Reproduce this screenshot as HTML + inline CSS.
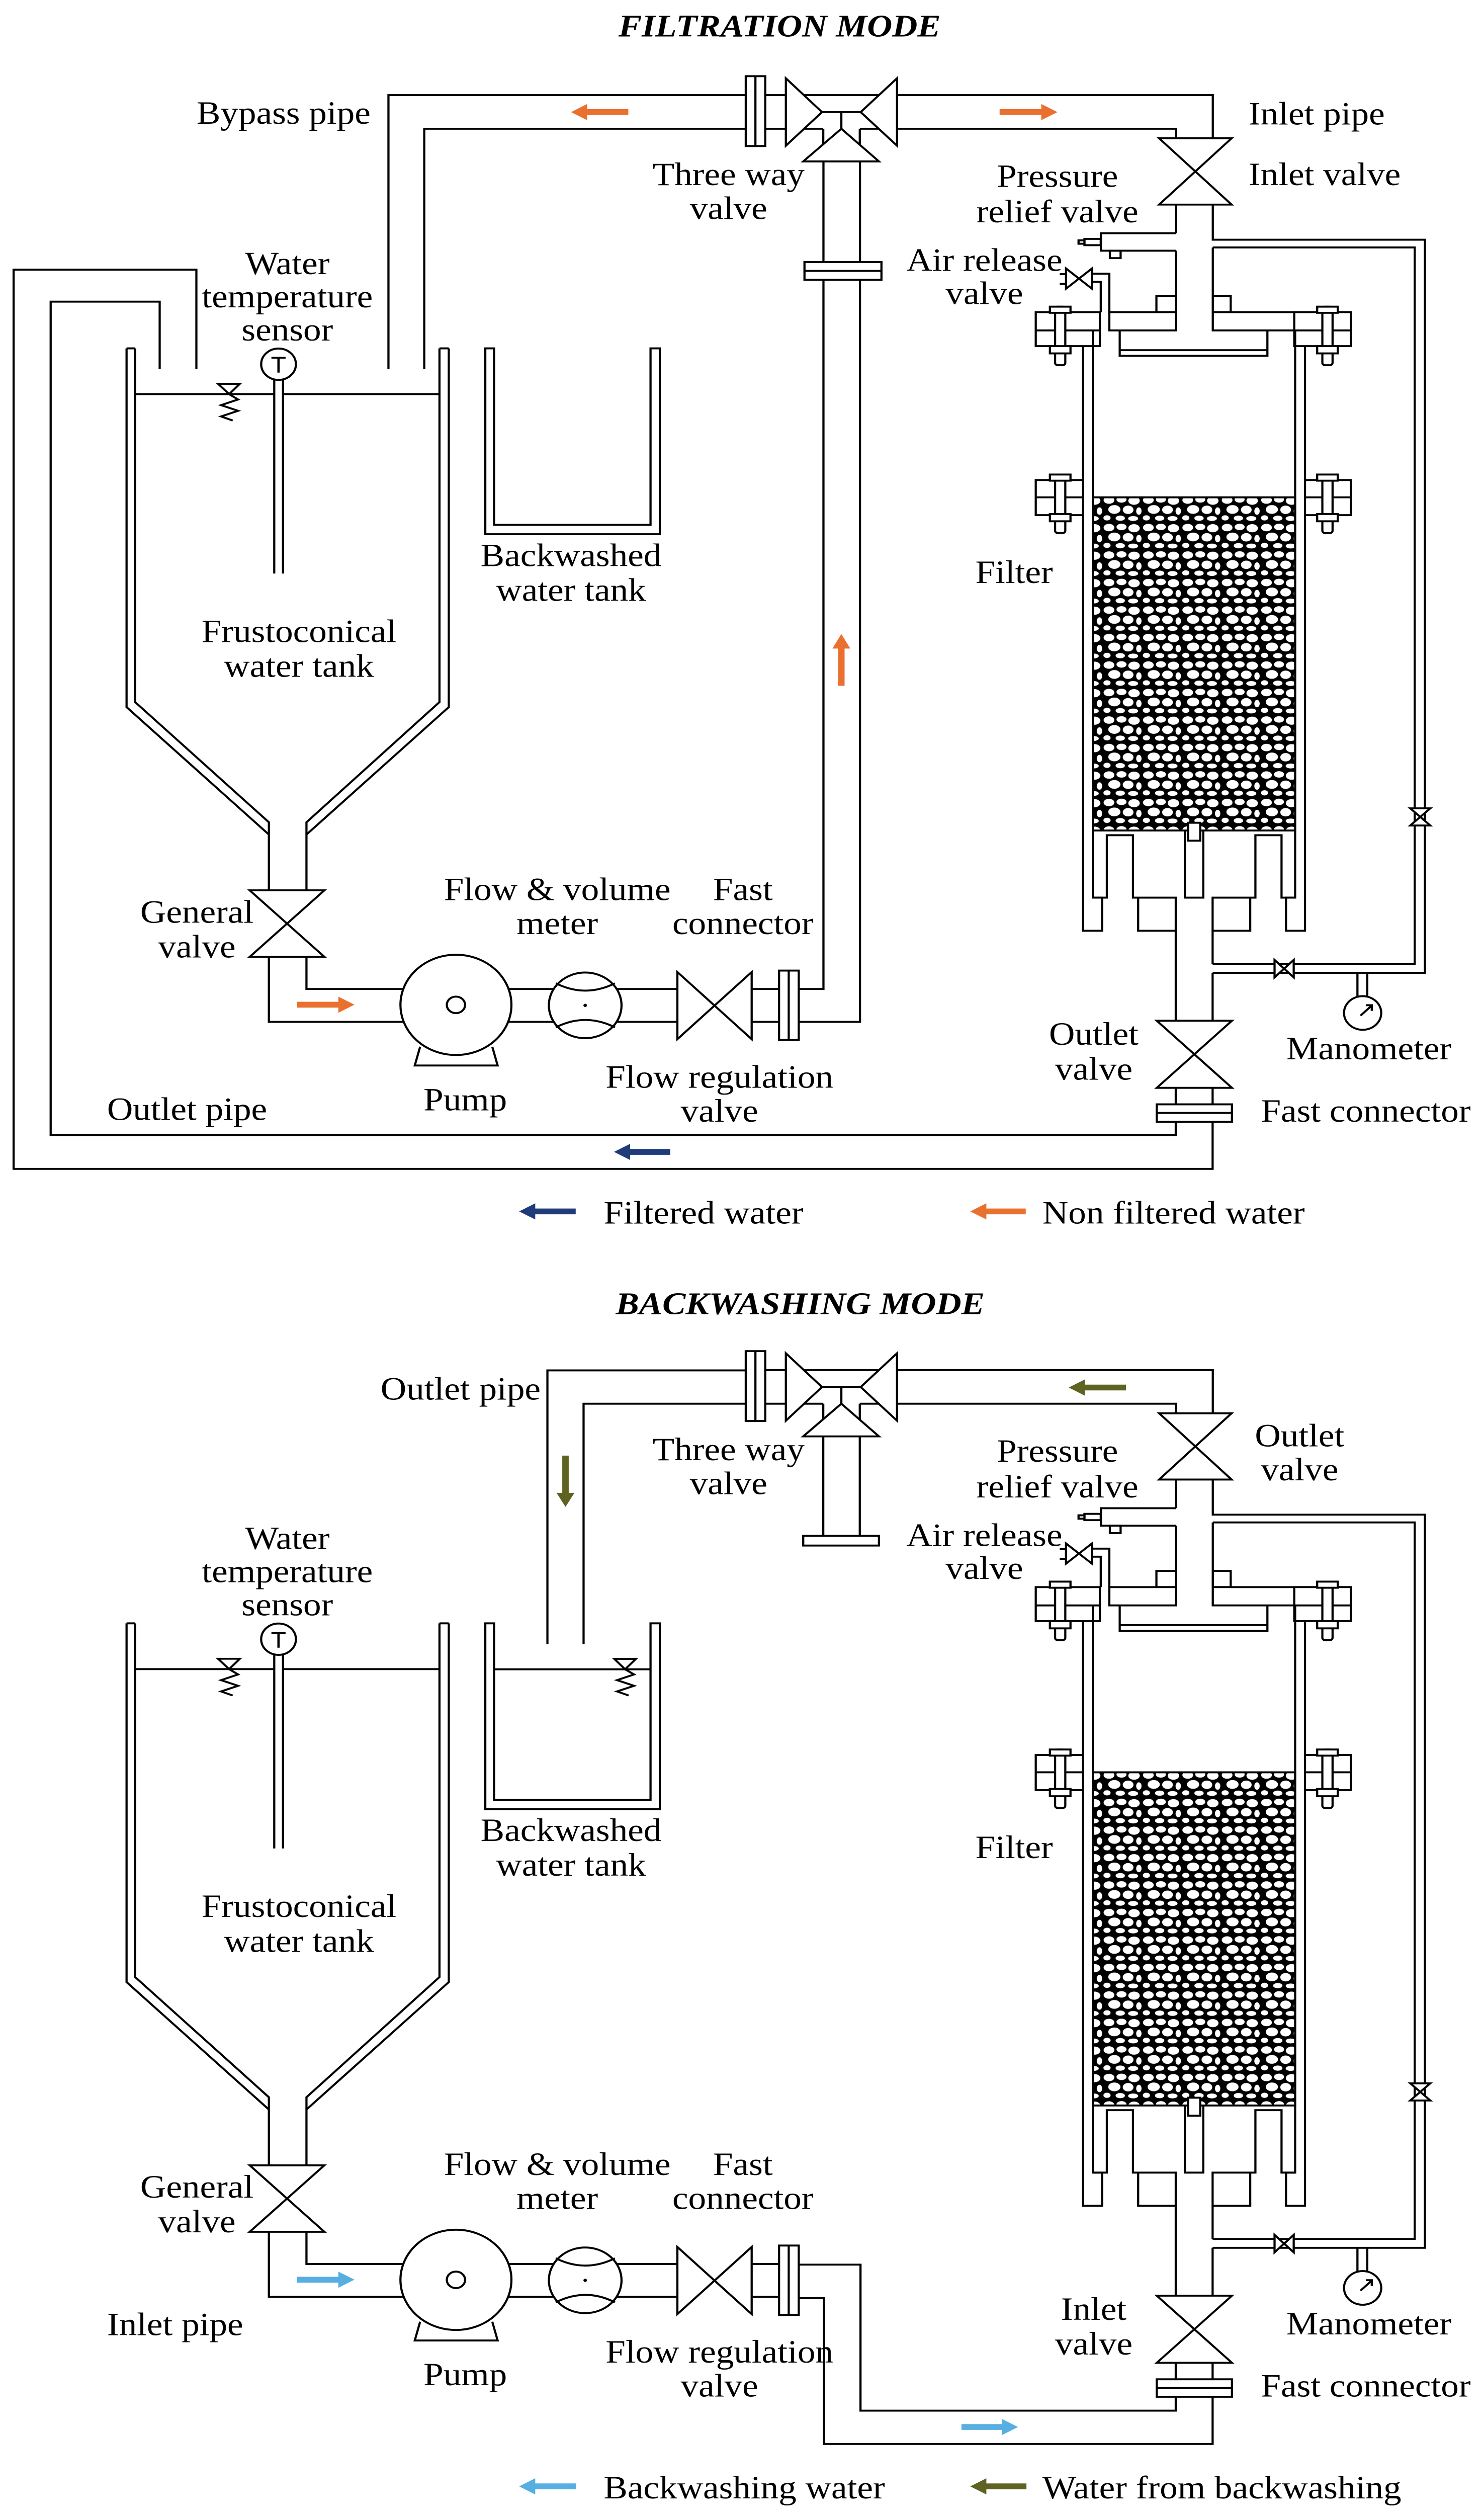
<!DOCTYPE html>
<html><head><meta charset="utf-8">
<style>
html,body{margin:0;padding:0;background:#fff;width:100%;height:100%;overflow:hidden;}
svg{display:block;position:absolute;left:0;top:0;width:100vw;height:100vh;}
text{font-family:"Liberation Serif",serif;font-size:20px;fill:#000;}
.c{text-anchor:middle;}
.e{text-anchor:end;}
.t{font-style:italic;font-weight:bold;font-size:19.5px;text-anchor:middle;}
</style></head><body>
<svg width="2951" height="5535" viewBox="0 0 829 1555" preserveAspectRatio="none" xmlns="http://www.w3.org/2000/svg">
<defs>
<pattern id="peb" width="22" height="17" patternUnits="userSpaceOnUse">
<rect width="22" height="17" fill="#000"/>
<g fill="#fff">
<ellipse cx="3.5" cy="3.2" rx="3" ry="2.3"/>
<ellipse cx="10.5" cy="2.8" rx="2.8" ry="2"/>
<ellipse cx="17.5" cy="3.6" rx="3.2" ry="2.5"/>
<ellipse cx="6.5" cy="9" rx="3.4" ry="2.7"/>
<ellipse cx="14.2" cy="9.2" rx="3" ry="2.6"/>
<ellipse cx="20.2" cy="10" rx="1.5" ry="2.3"/>
<ellipse cx="2.4" cy="14.2" rx="2" ry="1.6"/>
<ellipse cx="9.8" cy="14.4" rx="2.6" ry="1.6"/>
<ellipse cx="17" cy="14.6" rx="2.8" ry="1.5"/>
</g>
</pattern>
<g id="common" fill="none" stroke="#000" stroke-width="1.2">
<rect x="416.6" y="47.1" width="10.9" height="43.2" fill="#fff"/>
<line x1="422" y1="47.1" x2="422" y2="90.3"/>
<path d="M427.5,58.8 H439 M427.5,79.6 H439"/>
<path d="M439,48.4 V90.1 L459.2,69.3 Z" fill="#fff"/>
<path d="M501.1,48.4 V90.1 L480.8,69.3 Z" fill="#fff"/>
<path d="M449,58.8 H491 M459.2,69.3 H480.8 M470,69.3 V79.6 M449,79.6 H459.9 M480.3,79.6 H491"/>
<path d="M459.9,79.6 V99.8 M480.3,79.6 V99.8"/>
<path d="M448.7,99.8 H491 L470,79.6 Z" fill="#fff"/>
<path d="M501.1,58.8 H677.5 V85.5 M501.1,79.6 H657 V85.5"/>
<path d="M647.5,85.5 H688 L647.5,126.5 H688 Z" fill="#fff"/>
<path d="M657,126.5 V144.2 M657,155 V204.3 M677.5,126.5 V148.2 H796 V601.5 H677.4 M677.5,153 H790.3 V596 H677.4 M677.5,153 V204.3"/>
<path d="M657,144.2 H615 V155 H657"/>
<rect x="605.8" y="147.7" width="9.1" height="3.9" fill="#fff"/>
<rect x="602.5" y="148.6" width="3.3" height="2.1" fill="#fff"/>
<rect x="620" y="155" width="6" height="4.6"/>
<rect x="646" y="183" width="11" height="10"/>
<rect x="677.5" y="183" width="10" height="10"/>
<rect x="619.7" y="193" width="37.3" height="11.3" fill="#fff"/>
<rect x="677.5" y="193" width="77.1" height="11.3" fill="#fff"/>
<rect x="578.6" y="193" width="35.8" height="21" fill="#fff"/>
<line x1="578.6" y1="204.3" x2="614.4" y2="204.3"/>
<rect x="723" y="193" width="31.6" height="21" fill="#fff"/>
<line x1="723" y1="204.3" x2="754.6" y2="204.3"/>
<path d="M619.7,193 V169.2 H610 M614.9,193 V174.2 H610"/>
<path d="M595.5,166 V178.5 L610,166 V178.5 Z" fill="#fff"/>
<path d="M592,169.5 H595.5 M592,175.5 H595.5"/>
<path d="M625.5,204.3 V220 H708 V204.3 M625.5,216.5 H708"/>
<path d="M605,214 V296.8 M605,318.5 V575.5 H615.7 V555 H610.5 V204.3"/>
<path d="M729,214 V296.8 M729,318.5 V575.5 H718.4 V555 H723.5 V204.3"/>
<rect x="578.6" y="296.8" width="26.4" height="21.7" fill="#fff"/>
<rect x="729" y="296.8" width="25.6" height="21.7" fill="#fff"/>
<path d="M578.6,307.5 H605 M729,307.5 H754.6"/>
<rect x="610.5" y="307.5" width="113" height="206" fill="url(#peb)"/>
<g fill="#fff">
<rect x="589.4" y="189.6" width="5.7" height="36.2" rx="1.5"/>
<rect x="586.5" y="189.6" width="11.5" height="3.8"/>
<rect x="586.5" y="214" width="11.5" height="4.5"/>
<rect x="738.7" y="189.6" width="5.7" height="36.2" rx="1.5"/>
<rect x="735.8" y="189.6" width="11.5" height="3.8"/>
<rect x="735.8" y="214" width="11.5" height="4.5"/>
<rect x="589.4" y="293.4" width="5.7" height="36.2" rx="1.5"/>
<rect x="586.5" y="293.4" width="11.5" height="3.8"/>
<rect x="586.5" y="317.8" width="11.5" height="4.5"/>
<rect x="738.7" y="293.4" width="5.7" height="36.2" rx="1.5"/>
<rect x="735.8" y="293.4" width="11.5" height="3.8"/>
<rect x="735.8" y="317.8" width="11.5" height="4.5"/>
</g>
<path d="M610.5,555 H618.3 V516.4 H632.9 V555 H656.8 V631.1"/>
<path d="M635.8,555 V575.5 H656.8"/>
<path d="M661.9,513.5 V555 H672.2 V513.5"/>
<rect x="663.7" y="508.7" width="6.8" height="11.1" fill="#fff"/>
<path d="M723.5,555 H715.9 V516.4 H701.3 V555 H677.4 V596 M677.4,601.5 V631.1"/>
<path d="M698.4,555 V575.5 H677.4"/>
<path d="M712,593.5 V604.3 L722.7,593.5 V604.3 Z" fill="#fff"/>
<path d="M787.8,499.8 H799 L787.8,510.4 H799 Z" fill="#fff"/>
<path d="M758.3,601.5 V616.2 M763.8,601.5 V616.2"/>
<circle cx="761.2" cy="626.3" r="10.4" fill="#fff"/>
<path d="M760,628 L766,622 M763,621.5 H766.3 V625"/>
<path d="M646.2,631.1 H688.2 L646.2,672.6 H688.2 Z" fill="#fff"/>
<path d="M656.8,672.6 V682.8 M677.4,672.6 V682.8"/>
<rect x="646.2" y="682.8" width="42" height="10.8" fill="#fff"/>
<line x1="646.2" y1="688.1" x2="688.2" y2="688.1"/>
<path d="M70.7,215.4 V437.2 L150.2,516 M75.5,215.4 V434.1 L150.2,508.4 V550.5 M70.7,215.4 H75.5"/>
<path d="M250.7,215.4 V437.2 L171.2,516 M245.5,215.4 V434.1 L171.2,508.4 V550.5 M250.7,215.4 H245.5"/>
<path d="M75.5,243.7 H153.2 M158.1,243.7 H245.5"/>
<path d="M121.8,237.3 H134 L128,243.7 Z"/>
<path d="M128,243.7 L133,247 L123.5,250.5 L133,254 L123.5,257.5 L130,260"/>
<circle cx="155.6" cy="225.2" r="9.7" fill="#fff"/>
<path d="M153.2,234.9 V354.6 M158.1,234.9 V354.6"/>
<path d="M271.1,215.4 V330.3 H368.6 V215.4 H363.4 V324.5 H276 V215.4 Z"/>
<path d="M139.5,550.5 H181.2 L139.5,591.6 H181.2 Z" fill="#fff"/>
<path d="M150.2,591.6 V631.8 H225.3 M171.2,591.6 V611.5 H225.3"/>
<circle cx="254.7" cy="621.3" r="31"/>
<circle cx="254.7" cy="621.3" r="5.1"/>
<path d="M234.7,647.2 L231.7,658.8 H278 L275,647.2"/>
<path d="M284.1,611.5 H309.1 M284.1,631.8 H309.1"/>
<circle cx="326.9" cy="621.6" r="20.3"/>
<path d="M310.5,608 Q327,617 343.5,608 M310.5,635.2 Q327,626 343.5,635.2"/>
<circle cx="326.9" cy="621.6" r="0.4" fill="#000"/>
<path d="M344.7,611.5 H378.4 M344.7,631.8 H378.4"/>
<path d="M378.4,601 V642.5 L419.9,601 V642.5 Z" fill="#fff"/>
<path d="M419.9,611.5 H435.2 M419.9,631.8 H435.2"/>
<rect x="435.2" y="600.1" width="11" height="42.9" fill="#fff"/>
<line x1="440.6" y1="600.1" x2="440.6" y2="643"/>
</g>
<g id="commonText">
<text class="c" x="155.6" y="230.5" style="font-size:14px;font-family:'Liberation Sans',sans-serif">T</text>
<text class="c" x="407" y="114.5">Three way</text>
<text class="c" x="407" y="135.5">valve</text>
<text class="c" x="590.7" y="115.5">Pressure</text>
<text class="c" x="590.7" y="137.5">relief valve</text>
<text class="c" x="549.9" y="167.5">Air release</text>
<text class="c" x="549.9" y="188">valve</text>
<text class="c" x="160.5" y="169.5">Water</text>
<text class="c" x="160.5" y="190">temperature</text>
<text class="c" x="160.5" y="210.5">sensor</text>
<text class="c" x="319" y="350">Backwashed</text>
<text class="c" x="319" y="371.5">water tank</text>
<text class="c" x="566.5" y="360.5">Filter</text>
<text class="c" x="167" y="397">Frustoconical</text>
<text class="c" x="167" y="418.5">water tank</text>
<text class="c" x="110" y="570.5">General</text>
<text class="c" x="110" y="592">valve</text>
<text class="c" x="311.3" y="556.5">Flow &amp; volume</text>
<text class="c" x="311.3" y="577.5">meter</text>
<text class="c" x="415" y="556.5">Fast</text>
<text class="c" x="415" y="577.5">connector</text>
<text class="c" x="764.7" y="655">Manometer</text>
<text x="704.4" y="693.5">Fast connector</text>
<text class="c" x="401.9" y="672.5">Flow regulation</text>
<text class="c" x="401.9" y="693.5">valve</text>
<text class="c" x="259.9" y="686.5">Pump</text>
</g>
</defs>

<rect width="829" height="1555" fill="#fff"/>

<use href="#common"/>
<use href="#commonText"/>
<text class="t" x="435.5" y="22.5">FILTRATION MODE</text>
<g fill="none" stroke="#000" stroke-width="1.2">
<path d="M416.6,58.8 H217 V228.2 M416.6,79.6 H237 V228.2"/>
<path d="M460,99.8 V162 M460,173 V611.5 H446.2 M480.4,99.8 V162 M480.4,173 V631.8 H446.2"/>
<rect x="449.4" y="162" width="43" height="11" fill="#fff"/>
<line x1="449.4" y1="167.5" x2="492.4" y2="167.5"/>
<path d="M656.8,693.6 V701.8 H28.3 V186.5 H89.2 V228.2"/>
<path d="M677.4,693.6 V722.7 H7.6 V166.7 H109.7 V228.2"/>
</g>
<text class="e" x="207" y="76.5">Bypass pipe</text>
<text x="697.5" y="77">Inlet pipe</text>
<text x="697.5" y="114.5">Inlet valve</text>
<text class="c" x="611" y="646">Outlet</text>
<text class="c" x="611" y="667.5">valve</text>
<text x="59.8" y="692.5">Outlet pipe</text>
<g fill="#E9702E">
<path d="M351,67.5 H328 V64.3 L319,69.3 L328,74.3 V71.1 H351 Z"/>
<path d="M558.4,67.5 H581.7 V64.3 L590.7,69.3 L581.7,74.3 V71.1 H558.4 Z"/>
<path d="M468.2,424 V401 H465 L470,392 L475,401 H471.8 V424 Z"/>
<path d="M166,619.4 H189 V616.2 L198,621.2 L189,626.2 V623 H166 Z"/>
<path d="M573,747.2 H551 V744 L542,749 L551,754 V750.8 H573 Z"/>
</g>
<g fill="#1F3B7A">
<path d="M374.4,710.4 H352 V707.2 L343,712.2 L352,717.2 V714 H374.4 Z"/>
<path d="M321.6,747.2 H299 V744 L290,749 L299,754 V750.8 H321.6 Z"/>
</g>
<text x="337.2" y="756.5">Filtered water</text>
<text x="582.3" y="756.5">Non filtered water</text>

<g transform="translate(0,788.3)">
<use href="#common"/>
<use href="#commonText"/>
<g fill="none" stroke="#000" stroke-width="1.2">
<path d="M416.6,59 H305.8 V228.3 M416.6,79.6 H326 V228.3"/>
<path d="M459.9,99.8 V161.3 M480.3,99.8 V161.3"/>
<rect x="448.7" y="161.3" width="42.3" height="6" fill="#fff"/>
<path d="M276,243.8 H363.4"/>
<path d="M343.2,237.4 H355.2 L349.2,243.8 Z"/>
<path d="M349.2,243.8 L354.2,247 L344.7,250.5 L354.2,254 L344.7,257.5 L351.2,260"/>
<path d="M656.8,693.6 V702.2 H480.7 V611.9 H446.2"/>
<path d="M677.4,693.6 V722.8 H460.3 V632.6 H446.2"/>
</g>
<text class="e" x="302" y="77">Outlet pipe</text>
<text class="c" x="726" y="106">Outlet</text>
<text class="c" x="726" y="127">valve</text>
<text class="c" x="611" y="646">Inlet</text>
<text class="c" x="611" y="667.5">valve</text>
<text x="59.8" y="655.5">Inlet pipe</text>
<g fill="#5E6322">
<path d="M629,67.8 H606 V64.6 L597,69.6 L606,74.6 V71.4 H629 Z"/>
<path d="M314.1,111.7 V134.7 H310.9 L315.9,143.4 L320.9,134.7 H317.7 V111.7 Z"/>
<path d="M573.4,747.2 H551 V744 L542,749 L551,754 V750.8 H573.4 Z"/>
</g>
<g fill="#57AEE0">
<path d="M166,619.4 H189 V616.2 L198,621.2 L189,626.2 V623 H166 Z"/>
<path d="M537.1,710.5 H559.7 V707.3 L568.7,712.3 L559.7,717.3 V714.1 H537.1 Z"/>
<path d="M321.8,747.2 H299 V744 L290,749 L299,754 V750.8 H321.8 Z"/>
</g>
<text x="337.2" y="756.5">Backwashing water</text>
<text x="582.3" y="756.5">Water from backwashing</text>
</g>
<text class="t" x="447" y="812.5">BACKWASHING MODE</text>
</svg>
</body></html>
